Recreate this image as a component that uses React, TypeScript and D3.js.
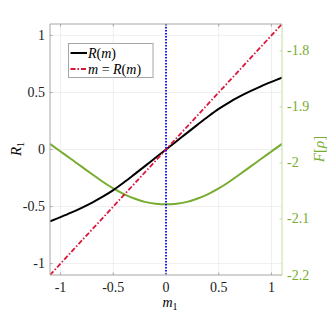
import React, { useEffect, useRef } from "react";
import * as d3 from "d3";

// sampled order parameter m_1
const mValues = [
  -1.1, -1.0, -0.9, -0.8, -0.7, -0.6, -0.5, -0.4, -0.3, -0.2, -0.1, 0,
  0.1, 0.2, 0.3, 0.4, 0.5, 0.6, 0.7, 0.8, 0.9, 1.0, 1.1,
];
// R(m)
const rValues = [
  -0.63, -0.593, -0.554, -0.511, -0.465, -0.414, -0.356, -0.289, -0.218,
  -0.146, -0.073, 0, 0.073, 0.146, 0.218, 0.289, 0.356, 0.414, 0.465, 0.511,
  0.554, 0.593, 0.63,
];
// free energy F[rho] (right axis), green curve
const fValues = [
  -1.966, -1.9795, -1.993, -2.0066, -2.0202, -2.0335, -2.0455, -2.0555,
  -2.0635, -2.0695, -2.0727, -2.0738, -2.0727, -2.0695, -2.0635, -2.0555,
  -2.0455, -2.0335, -2.0202, -2.0066, -1.993, -1.9795, -1.966,
];
const identityM = [-1.1, 1.1];
const xTicks = [-1, -0.5, 0, 0.5, 1];
const yTicks = [-1, -0.5, 0, 0.5, 1];
const fTicks = [-2.2, -2.1, -2, -1.9, -1.8];

const green = "#77AC30";
const red = "#D9163A";
const serif = "Liberation Serif, DejaVu Serif, serif";

export default function App() {
  const ref = useRef<SVGSVGElement>(null);

  useEffect(() => {
    const svg = d3.select(ref.current);
    svg.selectAll("*").remove();

    const left = 50, right = 282, top = 24, bottom = 275;
    const x = d3.scaleLinear().domain([-1.1, 1.1]).range([left, right]);
    const y = d3.scaleLinear().domain([-1.1, 1.1]).range([bottom, top]);
    const yF = d3.scaleLinear().domain([-2.2, -1.752]).range([bottom, top]);

    // grid
    const grid = svg.append("g").attr("stroke", "#ebebeb").attr("stroke-width", 0.8);
    xTicks.forEach(t => {
      grid.append("line").attr("x1", x(t)).attr("x2", x(t)).attr("y1", top).attr("y2", bottom);
    });
    yTicks.forEach(t => {
      grid.append("line").attr("x1", left).attr("x2", right).attr("y1", y(t)).attr("y2", y(t));
    });

    const clip = svg.append("defs").append("clipPath").attr("id", "plotclip");
    clip.append("rect").attr("x", left).attr("y", top).attr("width", right - left).attr("height", bottom - top);
    const plot = svg.append("g").attr("clip-path", "url(#plotclip)");

    // F curve
    const fLine = d3.line<number>()
      .x((d, i) => x(mValues[i]))
      .y(d => yF(d))
      .curve(d3.curveMonotoneX);
    plot.append("path").attr("d", fLine(fValues)).attr("fill", "none")
      .attr("stroke", green).attr("stroke-width", 2);

    // R curve
    const rLine = d3.line<number>()
      .x((d, i) => x(mValues[i]))
      .y(d => y(d))
      .curve(d3.curveMonotoneX);
    plot.append("path").attr("d", rLine(rValues)).attr("fill", "none")
      .attr("stroke", "#000").attr("stroke-width", 2);

    // identity
    plot.append("line")
      .attr("x1", x(identityM[0])).attr("y1", y(identityM[0]))
      .attr("x2", x(identityM[1])).attr("y2", y(identityM[1]))
      .attr("stroke", red).attr("stroke-width", 1.8)
      .attr("stroke-dasharray", "5,2,1.5,2");

    // vertical dotted at m = 0
    plot.append("line")
      .attr("x1", x(0)).attr("x2", x(0)).attr("y1", top).attr("y2", bottom)
      .attr("stroke", "#0000ff").attr("stroke-width", 1.8)
      .attr("stroke-dasharray", "1.5,1.5");

    // box
    const axisCol = "#a6a6a6";
    svg.append("line").attr("x1", left).attr("x2", right).attr("y1", top).attr("y2", top)
      .attr("stroke", axisCol);
    svg.append("line").attr("x1", left).attr("x2", right).attr("y1", bottom).attr("y2", bottom)
      .attr("stroke", axisCol);
    svg.append("line").attr("x1", left).attr("x2", left).attr("y1", top).attr("y2", bottom)
      .attr("stroke", axisCol);
    svg.append("line").attr("x1", right).attr("x2", right).attr("y1", top).attr("y2", bottom)
      .attr("stroke", "#c4dca4");

    const txt = (sel: d3.Selection<SVGTextElement, unknown, null, undefined>, size: number, fill: string) =>
      sel.style("font-family", serif).style("font-size", `${size}px`).attr("fill", fill);

    const tl = 2.5;
    // x ticks, bottom and top
    xTicks.forEach(t => {
      svg.append("line").attr("x1", x(t)).attr("x2", x(t)).attr("y1", bottom).attr("y2", bottom - tl)
        .attr("stroke", axisCol);
      svg.append("line").attr("x1", x(t)).attr("x2", x(t)).attr("y1", top).attr("y2", top + tl)
        .attr("stroke", axisCol);
      txt(svg.append("text").attr("x", x(t)).attr("y", 291.5).attr("text-anchor", "middle"), 14, "#222")
        .text(String(t));
    });
    // left y ticks
    yTicks.forEach(t => {
      svg.append("line").attr("x1", left).attr("x2", left + tl).attr("y1", y(t)).attr("y2", y(t))
        .attr("stroke", axisCol);
      txt(svg.append("text").attr("x", 45).attr("y", y(t) + 4.5).attr("text-anchor", "end"), 14, "#222")
        .text(String(t));
    });
    // right F ticks
    fTicks.forEach(t => {
      svg.append("line").attr("x1", right).attr("x2", right - tl).attr("y1", yF(t)).attr("y2", yF(t))
        .attr("stroke", "#c4dca4");
      txt(svg.append("text").attr("x", 287).attr("y", yF(t) + 4.5).attr("text-anchor", "start"), 14, green)
        .text(String(t));
    });

    // axis labels
    const xl = txt(svg.append("text").attr("x", 170).attr("y", 307).attr("text-anchor", "middle"), 14, "#000");
    xl.append("tspan").attr("font-style", "italic").text("m");
    xl.append("tspan").style("font-size", "10px").attr("dy", 2.5).text("1");

    const yl = txt(svg.append("text").attr("transform", `translate(21,149) rotate(-90)`)
      .attr("text-anchor", "middle"), 15, "#000");
    yl.append("tspan").attr("font-style", "italic").text("R");
    yl.append("tspan").style("font-size", "10px").attr("dy", 2.5).text("1");

    const fl = txt(svg.append("text").attr("transform", `translate(324,149) rotate(-90)`)
      .attr("text-anchor", "middle"), 15, green);
    fl.append("tspan").attr("font-style", "italic").text("F");
    fl.append("tspan").text("[");
    fl.append("tspan").attr("font-style", "italic").text("ρ");
    fl.append("tspan").text("]");

    // legend
    const lg = svg.append("g");
    lg.append("rect").attr("x", 68.5).attr("y", 43.5).attr("width", 84.5).attr("height", 34)
      .attr("fill", "#fff").attr("stroke", "#a6a6a6").attr("stroke-width", 1);
    lg.append("line").attr("x1", 70.5).attr("x2", 87).attr("y1", 53).attr("y2", 53)
      .attr("stroke", "#000").attr("stroke-width", 2);
    lg.append("line").attr("x1", 70.5).attr("x2", 87).attr("y1", 69).attr("y2", 69)
      .attr("stroke", red).attr("stroke-width", 1.8).attr("stroke-dasharray", "5,2,1.5,2");
    const t1 = txt(lg.append("text").attr("x", 88).attr("y", 58), 14, "#000");
    t1.append("tspan").attr("font-style", "italic").text("R");
    t1.append("tspan").text("(");
    t1.append("tspan").attr("font-style", "italic").text("m");
    t1.append("tspan").text(")");
    const t2 = txt(lg.append("text").attr("x", 88).attr("y", 74), 14, "#000");
    t2.append("tspan").attr("font-style", "italic").text("m");
    t2.append("tspan").text(" = ");
    t2.append("tspan").attr("font-style", "italic").text("R");
    t2.append("tspan").text("(");
    t2.append("tspan").attr("font-style", "italic").text("m");
    t2.append("tspan").text(")");
  }, []);

  return (
    <svg ref={ref} width={332} height={318}
      style={{ position: "absolute", left: 0, top: 0, background: "#fff" }} />
  );
}
